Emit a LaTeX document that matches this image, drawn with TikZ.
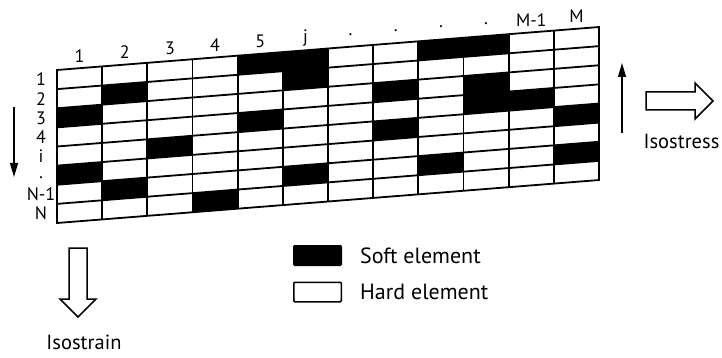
\documentclass[tikz,border=0pt]{standalone}
\usepackage{fontspec}
\setmainfont{PT Sans}
\usetikzlibrary{arrows.meta}

\begin{document}
\begin{tikzpicture}[
  x = 1pt, y = -1pt,
  gridline/.style = {
    line width = 1.8pt,
  },
  soft/.style = {
    fill = black,
  },
  collabel/.style = {
    font = \fontsize{18}{20}\selectfont,
    inner sep = 0pt,
  },
  rowlabel/.style = {
    font = \fontsize{18}{20}\selectfont,
    inner sep = 0pt,
  },
  legendbox/.style = {
    draw = black,
    line width = 1.5pt,
    minimum width = 47.5pt,
    minimum height = 19.5pt,
    inner sep = 0pt,
    rounded corners = 1pt,
  },
  legendtext/.style = {
    anchor = west,
    font = \fontsize{22}{24}\selectfont,
    inner sep = 0pt,
  },
  hollow/.style = {
    draw = black,
    line width = 1.5pt,
    fill = white,
  },
  loadarrow/.style = {
    line width = 1.3pt,
    -{Triangle[length = 14pt, width = 8pt]},
  },
  caption/.style = {
    font = \fontsize{20.5}{22}\selectfont,
    inner sep = 0pt,
  }
]
  \useasboundingbox (0, 0) rectangle (722, 358);

  % the slanted M x N grid
  \begin{scope}[shift = {(57, 70)}, x = 45.17pt, y = -19.125pt, yslant = 0.0793]
    \foreach \r/\c in {0/4, 0/5, 0/8, 0/9, 1/1, 1/5, 2/0, 2/7, 2/9,
                       3/4, 3/9, 3/10, 4/2, 4/7, 4/11, 5/0,
                       6/1, 6/5, 6/8, 6/11, 7/3}
      \fill[soft] (\c, \r) -- ({\c + 1}, \r) -- ({\c + 1}, {\r + 1})
        -- (\c, {\r + 1}) -- cycle;

    \foreach \c in {1, ..., 11}
      \draw[gridline] (\c, 0) -- (\c, 8);
    \foreach \r in {1, ..., 7}
      \draw[gridline] (0, \r) -- (12, \r);
    \draw[gridline] (0, 0) -- (12, 0) -- (12, 8) -- (0, 8) -- cycle;

    \foreach \c/\t in {0/1, 1/2, 2/3, 3/4, 4/5, 5/j, 6/., 7/., 8/., 9/.,
                       10/M-1, 11/M}
      \node[collabel] (col\c) at ({\c + 0.5}, -0.65) {\t};
  \end{scope}

  \foreach \r/\t/\dy in {0/1/0, 1/2/0, 2/3/0, 3/4/0, 4/i/0, 5/./2.5,
                         6/N-1/0, 7/N/0}
    \node[rowlabel] (row\r) at (41, {70 + 19.125 * (\r + 0.5) + \dy}) {\t};

  % load directions
  \coordinate (rowtop) at (14, 107);
  \coordinate (rowend) at (14, 177);
  \draw[loadarrow] (rowtop) -- (rowend);

  \coordinate (colbot) at (622, 133);
  \coordinate (coltop) at (622, 63);
  \draw[loadarrow] (colbot) -- (coltop);

  \draw[hollow] (69, 248) -- (87, 248) -- (87, 299) -- (96, 299)
    -- (78, 317) -- (60, 299) -- (69, 299) -- cycle;
  \draw[hollow] (646, 92) -- (695, 92) -- (695, 83) -- (713, 101)
    -- (695, 119) -- (695, 110) -- (646, 110) -- cycle;

  \node[caption] (isostress) at (681.5, 141) {Isostress};
  \node[caption] (isostrain) at (84, 342.5) {Isostrain};

  % legend
  \node[legendbox, fill = black] (softbox) at (317.5, 255.5) {};
  \node[legendbox] (hardbox) at (317.5, 292) {};
  \node[legendtext] (softtext) at (360, 256) {Soft element};
  \node[legendtext] (hardtext) at (360, 292) {Hard element};
\end{tikzpicture}
\end{document}
